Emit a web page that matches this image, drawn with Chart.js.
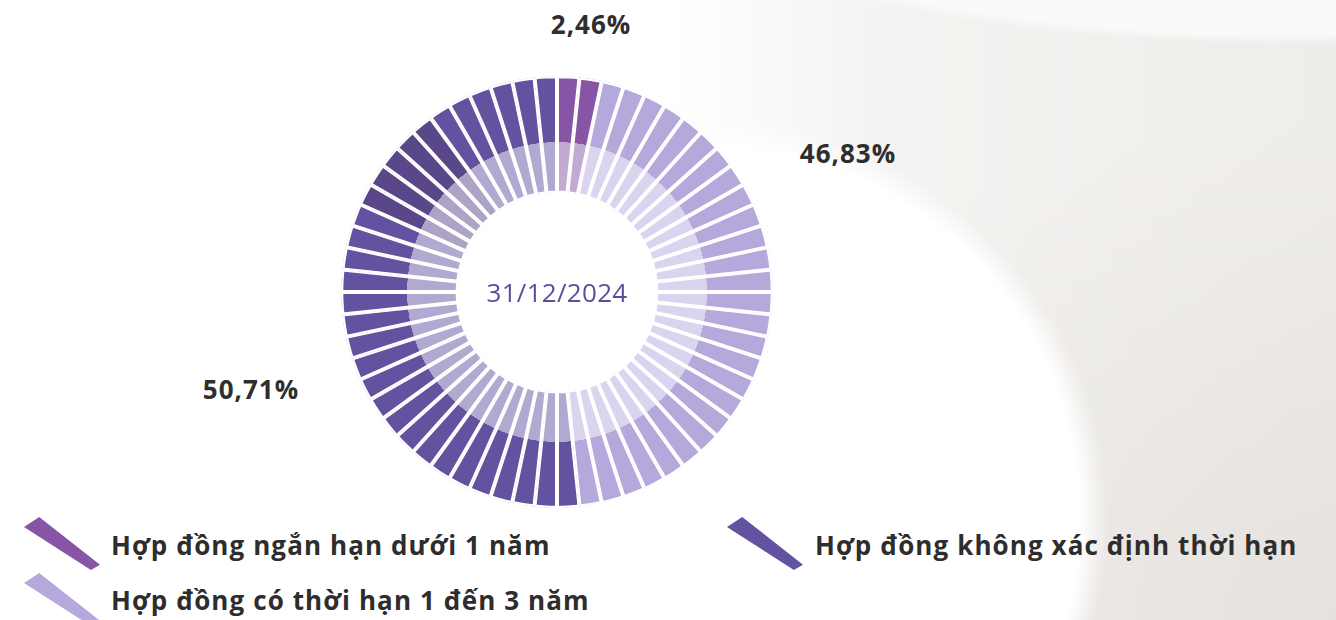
<!DOCTYPE html>
<html lang="vi">
<head>
<meta charset="utf-8">
<title>Cơ cấu hợp đồng lao động</title>
<script src="https://cdn.jsdelivr.net/npm/chart.js@4.4.1/dist/chart.umd.min.js"></script>
<style>
  html, body { margin: 0; padding: 0; }
  body {
    width: 1336px; height: 620px; overflow: hidden; position: relative;
    font-family: "Open Sans", "DejaVu Sans", sans-serif;
    background:
      radial-gradient(ellipse 900px 345px at 1300px -300px, #fbfbfb 0, #fafafa 97%, rgba(250,250,250,0) 100%),
      radial-gradient(circle at 708px 520px, #ffffff 0, #ffffff 372px, rgba(255,255,255,0) 400px),
      radial-gradient(ellipse 700px 500px at 1336px 620px, rgba(222,216,211,0.55) 0, rgba(222,216,211,0) 100%),
      linear-gradient(90deg, #ffffff 0, #ffffff 50%, #f4f3f1 66%, #efedea 100%);
  }
  #ring-box { position: absolute; left: 337px; top: 72px; width: 440px; height: 440px; }
  .pct {
    position: absolute; transform: translate(-50%, -50%);
    font-weight: 700; font-size: 26px; letter-spacing: 1px; color: #2f2e2e; white-space: nowrap;
  }
  #center-label {
    position: absolute; left: 557px; top: 292px; transform: translate(-50%, -50%);
    font-size: 26px; font-weight: 500; letter-spacing: 0.3px; color: #5f4c9c; white-space: nowrap;
  }
  .legend-text {
    position: absolute; transform: translateY(-50%);
    font-weight: 700; font-size: 26px; letter-spacing: 1.1px; color: #2e2d2d; white-space: nowrap;
  }
  .swatch {
    position: absolute; width: 76px; height: 53px;
    clip-path: polygon(0% 19%, 20% 0%, 100% 90%, 88% 100%);
  }
</style>
</head>
<body>
<div id="ring-box"><canvas id="ring"></canvas></div>
<div id="center-label"></div>
<div id="labels"></div>
<div id="legend"></div>

<script>
// --- Data ---
const categories = [
  "Hợp đồng ngắn hạn dưới 1 năm",
  "Hợp đồng có thời hạn 1 đến 3 năm",
  "Hợp đồng không xác định thời hạn",
];
const shares = [2.46, 46.83, 50.71];
const shareLabels = ["2,46%", "46,83%", "50,71%"];
// number of ring ticks drawn in each colour, clockwise from 12 o'clock
const segmentCounts = [2, 27, 31];
const centerText = "31/12/2024";

// --- Style ---
const outerColors = ["#8754a6", "#b5a9dc", "#6352a0"];
const shadeColor = "#5a4789"; // darker ticks at 10-11 o'clock
const shadedTicks = [49, 50, 51, 52, 53];
const labelPos = [[591, 24], [848, 153], [251, 389]];
const legendPos = [
  { swatch: [24, 517], text: [111, 545] },
  { swatch: [24, 573], text: [111, 600] },
  { swatch: [727, 517], text: [815, 545] },
];

const OUTER_R = 216;
const INNER_R = 99;
const BAND_R = 150; // where the light inner band meets the dark outer band

function mixWhite(hex, amount) {
  const n = parseInt(hex.slice(1), 16);
  const r = (n >> 16) & 255, g = (n >> 8) & 255, b = n & 255;
  const m = (c) => Math.round(c + (255 - c) * amount);
  return `rgb(${m(r)}, ${m(g)}, ${m(b)})`;
}

// expand category counts into ring ticks
const tickCategory = [];
segmentCounts.forEach((count, ci) => {
  for (let i = 0; i < count; i++) tickCategory.push(ci);
});
const tickValues = tickCategory.map(() => 1);

const gradientCache = {};
function tickFill(context) {
  const i = context.dataIndex;
  const base = shadedTicks.includes(i) ? shadeColor : outerColors[tickCategory[i]];
  const chart = context.chart;
  const area = chart.chartArea;
  if (!area) return base;
  if (gradientCache[base]) return gradientCache[base];
  const cx = (area.left + area.right) / 2;
  const cy = (area.top + area.bottom) / 2;
  const g = chart.ctx.createRadialGradient(cx, cy, 0, cx, cy, OUTER_R);
  const stop = BAND_R / OUTER_R;
  const light = mixWhite(base, 0.5);
  g.addColorStop(0, light);
  g.addColorStop(stop - 0.001, light);
  g.addColorStop(stop, base);
  g.addColorStop(1, base);
  gradientCache[base] = g;
  return g;
}

new Chart(document.getElementById("ring"), {
  type: "doughnut",
  data: {
    labels: tickCategory.map((ci) => categories[ci]),
    datasets: [
      {
        data: tickValues,
        backgroundColor: tickFill,
        borderColor: "#ffffff",
        borderWidth: 2,
        borderAlign: "inner",
      },
    ],
  },
  options: {
    responsive: true,
    maintainAspectRatio: false,
    animation: false,
    events: [],
    cutout: INNER_R,
    // 440px box minus padding leaves an outer radius of OUTER_R
    layout: { padding: 220 - OUTER_R },
    plugins: {
      legend: { display: false },
      tooltip: { enabled: false },
    },
  },
});

// --- Text overlays ---
document.getElementById("center-label").textContent = centerText;

const labelsBox = document.getElementById("labels");
shareLabels.forEach((txt, i) => {
  const el = document.createElement("div");
  el.className = "pct";
  el.textContent = txt;
  el.title = `${categories[i]}: ${shares[i]}%`;
  el.style.left = labelPos[i][0] + "px";
  el.style.top = labelPos[i][1] + "px";
  labelsBox.appendChild(el);
});

const legendBox = document.getElementById("legend");
categories.forEach((name, i) => {
  const sw = document.createElement("div");
  sw.className = "swatch";
  sw.style.background = outerColors[i];
  sw.style.left = legendPos[i].swatch[0] + "px";
  sw.style.top = legendPos[i].swatch[1] + "px";
  legendBox.appendChild(sw);

  const tx = document.createElement("div");
  tx.className = "legend-text";
  tx.textContent = name;
  tx.style.left = legendPos[i].text[0] + "px";
  tx.style.top = legendPos[i].text[1] + "px";
  legendBox.appendChild(tx);
});
</script>
</body>
</html>
